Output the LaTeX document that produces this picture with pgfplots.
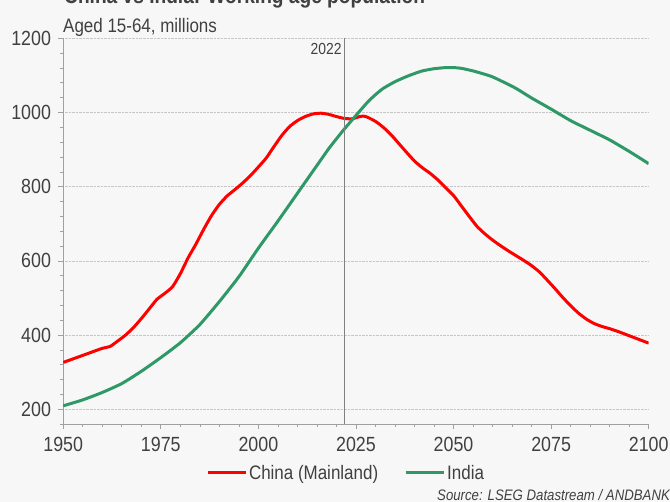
\documentclass[border=0pt]{standalone}
\usepackage{fontspec}
\setmainfont{Liberation Sans}[FakeStretch=0.87]
\usepackage{pgfplots}
\pgfplotsset{compat=1.18}

\definecolor{bg}{HTML}{F7F7F7}
\definecolor{txt}{HTML}{404040}
\definecolor{chinared}{HTML}{FF0000}
\definecolor{indiagreen}{HTML}{2E9966}
\definecolor{axgray}{HTML}{A0A0A0}

\begin{document}
\begin{tikzpicture}
\useasboundingbox (0,0) rectangle (670bp,502bp);
\fill[bg] (0,0) rectangle (670bp,502bp);
\clip (0,0) rectangle (670bp,502bp);

% titles (the chart title is cut by the top edge, as in the source image)
\node[anchor=base west, inner sep=0, text=txt, font=\fontsize{22bp}{26bp}\selectfont\bfseries]
  at (64bp,498bp) {China vs India: Working age population};
\node[anchor=base west, inner sep=0, text=txt, font=\fontsize{19.5bp}{23bp}\selectfont]
  at (63bp,469bp) {Aged 15-64, millions};
\node[anchor=base west, inner sep=0, text=txt, font=\fontsize{15.2bp}{18bp}\selectfont\itshape]
  at (437bp,2bp) {Source: LSEG Datastream / ANDBANK};

\begin{axis}[
    at={(63.2bp,78bp)}, anchor=south west,
    scale only axis,
    width=585.5bp, height=385.7bp,
    xmin=1950, xmax=2100,
    ymin=160, ymax=1200,
    axis lines=left,
    axis line style={-, axgray, line width=0.8bp},
    xtick={1950,1975,...,2100},
    minor xtick={1950,1955,...,2100},
    ytick={200,400,...,1200},
    minor ytick={160,200,...,1200},
    tick align=outside,
    major tick length=5bp,
    minor tick length=3bp,
    tick style={axgray, line width=0.6bp},
    ymajorgrids,
    grid style={densely dotted, black!22, line width=0.6bp},
    /pgf/number format/assume math mode=true,
    /pgf/number format/1000 sep={},
    ticklabel style={text=txt, font=\fontsize{20.5bp}{24bp}\selectfont},
    xticklabel style={inner sep=0pt, yshift=-8bp},
    yticklabel style={inner sep=0pt, xshift=-7bp},
    legend columns=2,
    legend style={
        at={(0.483,-0.127)}, anchor=center,
        draw=none, fill=none,
        font=\fontsize{19.5bp}{23bp}\selectfont,
        text=txt,
        /tikz/every even column/.append style={column sep=24bp},
    },
    legend image code/.code={
        \draw[#1, line width=3bp] (0bp,0bp) -- (38bp,0bp);
    },
]

\addplot[chinared, line width=3bp, line join=round, smooth, tension=0.35] coordinates {
(1950,326) (1955,345) (1960,364) (1962,369) (1964,384) (1966,400)
(1968,420) (1970,444) (1972,470) (1974,496) (1976,512) (1978,530)
(1980,565) (1982,608) (1984,645) (1986,685) (1988,722) (1990,752)
(1992,775) (1994,792) (1996,810) (1998,830) (2000,853) (2002,877)
(2004,908) (2006,938) (2008,962) (2010,978) (2012,989) (2014,996)
(2016,998) (2018,995) (2020,989) (2022,984) (2024,983) (2026,989)
(2027,990) (2028,987) (2030,976) (2032,960) (2034,940) (2036,916)
(2038,892) (2040,869) (2042,851) (2044,836) (2046,818) (2048,797)
(2050,776) (2052,748) (2054,720) (2056,693) (2058,673) (2060,656)
(2062,641) (2064,627) (2066,614) (2068,601) (2070,587) (2072,570)
(2074,548) (2076,525) (2078,501) (2080,479) (2082,459) (2084,443)
(2086,431) (2088,423) (2090,417) (2092,410) (2094,402) (2096,394)
(2098,386) (2100,378)
};
\addlegendentry{China (Mainland)}

\addplot[indiagreen, line width=3bp, line join=round, smooth, tension=0.35] coordinates {
(1950,209) (1955,225) (1960,245) (1965,269) (1970,302) (1975,339)
(1980,379) (1985,428) (1990,490) (1995,557) (2000,634) (2005,707)
(2010,782) (2015,857) (2018,902) (2020,929) (2022,955) (2025,992)
(2028,1028) (2030,1048) (2032,1065) (2035,1083) (2038,1097) (2040,1105)
(2042,1112) (2045,1118) (2048,1121) (2050,1121) (2052,1119) (2055,1112)
(2058,1103) (2060,1096) (2063,1081) (2066,1065) (2070,1039) (2075,1009)
(2080,978) (2085,952) (2090,926) (2095,895) (2100,862)
};
\addlegendentry{India}

% 2022 marker line
\addplot[gray, line width=0.8bp, forget plot] coordinates {(2022,160) (2022,1200)};
\node[anchor=base east, inner sep=0, text=txt, font=\fontsize{16bp}{19bp}\selectfont,
      xshift=-2.5bp, yshift=-16.7bp] at (axis cs:2022,1200) {2022};

\end{axis}
\end{tikzpicture}
\end{document}
